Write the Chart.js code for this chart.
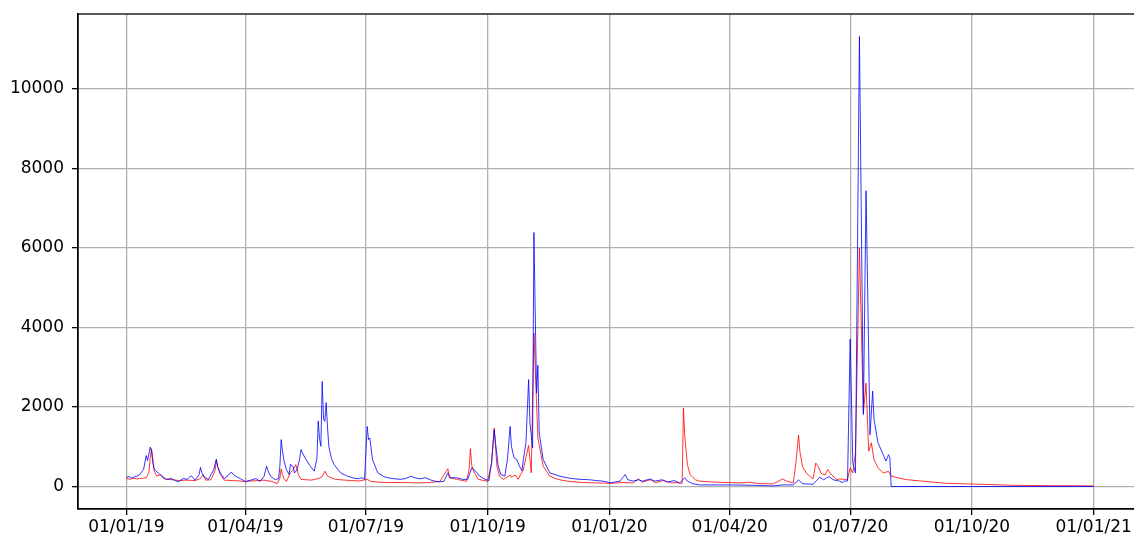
<!DOCTYPE html>
<html>
<head>
<meta charset="utf-8">
<script src="https://cdn.jsdelivr.net/npm/chart.js@4.4.1/dist/chart.umd.min.js"></script>
<style>
  html, body { margin: 0; padding: 0; background: #fff; overflow: hidden; }
  #wrap { width: 1150px; height: 539px; }
</style>
</head>
<body>
<div id="wrap"><canvas id="c" width="1150" height="539"></canvas></div>
<script>
// Days counted from 2019-01-01
const blueDays = [0,2,4,6,8,10,13,15,16,18,19,20,21,24,27,30,34,37,39,43,46,49,52,55,56,57,59,62,66,68,69,71,74,77,79,82,86,90,94,98,101,104,106,107,109,112,115,116,117,118,119,121,123,124,126,127,129,131,132,133,135,139,142,144,145,146,147,148,149,150,151,152,153,155,157,162,167,172,175,178,180,182,183,184,186,190,195,199,203,207,211,215,218,222,226,231,236,240,243,245,250,254,258,261,263,267,271,274,276,278,279,281,283,286,288,290,291,293,295,297,299,300,302,304,305,307,308,310,311,312,315,320,327,333,337,343,350,355,360,366,373,377,379,383,387,390,396,399,405,409,414,418,422,424,428,433,458,475,489,496,504,508,511,519,524,527,531,534,539,541,543,545,547,549,551,554,557,559,562,564,565,568,572,574,576,577,578,731];
const blueValues = [230,250,210,240,260,300,430,780,650,990,900,600,440,340,260,180,200,150,117,200,180,270,160,300,480,350,230,180,420,690,500,340,200,280,360,270,200,125,160,200,125,250,510,400,260,180,190,500,1180,900,670,420,300,560,500,340,420,700,930,850,720,510,385,700,1650,1200,1010,2640,1700,1640,2110,1500,1010,700,550,343,260,210,193,220,180,1510,1180,1220,680,343,243,210,193,180,200,260,220,193,220,150,117,130,343,220,220,180,180,470,420,260,180,150,595,1430,1100,520,300,260,680,1510,1010,720,680,520,390,680,1100,2690,1600,970,6390,2350,3050,1350,680,343,265,220,200,180,170,150,135,93,135,300,170,135,170,135,190,135,170,110,150,90,218,135,70,40,40,30,15,40,40,165,70,55,234,170,250,170,135,100,140,135,3710,590,343,11320,1810,7440,1300,2400,1700,1100,800,640,800,720,0,0];

const redDays = [0,3,5,8,10,13,15,17,18,19,20,21,23,26,28,31,35,40,45,52,56,58,60,64,67,68,69,71,74,80,85,90,95,100,104,110,114,116,117,118,119,121,124,126,128,130,132,136,140,145,148,150,152,158,165,170,176,182,185,195,210,220,230,237,243,244,250,257,259,260,261,263,266,273,276,278,280,282,285,290,291,294,296,300,304,306,308,311,315,320,326,333,345,357,366,375,383,387,390,396,400,406,412,416,420,421,422,424,426,430,433,445,455,465,470,478,489,496,499,504,506,508,509,511,514,519,521,523,525,528,530,533,537,539,545,547,549,551,554,557,559,561,563,565,568,572,576,578,589,600,620,647,670,700,731];
const redValues = [200,180,210,190,200,210,220,350,700,950,700,390,260,300,200,180,170,150,160,150,200,300,160,170,400,660,500,300,160,150,140,125,140,150,160,125,75,200,440,300,200,125,350,420,550,300,180,170,160,200,250,385,260,180,160,150,140,180,125,100,100,90,100,130,450,220,180,130,420,950,530,340,180,130,595,1470,520,260,180,290,230,290,180,427,1030,343,3860,1220,510,260,180,135,100,90,80,100,90,190,110,170,100,150,90,100,75,1975,1260,550,300,170,135,110,100,90,110,75,65,190,135,90,590,1290,880,500,330,190,590,500,330,290,430,290,170,190,175,470,343,850,6000,1850,2600,890,1100,680,470,343,380,260,175,140,80,55,30,20,15];

const xTickDays = [0,90,181,273,365,456,547,639,731];
const xTickLabels = ['01/01/19','01/04/19','01/07/19','01/10/19','01/01/20','01/04/20','01/07/20','01/10/20','01/01/21'];
const yTickValues = [0,2000,4000,6000,8000,10000];

const toPoints = (xs, ys) => xs.map((d, i) => ({x: d, y: ys[i]}));

const frame = {
  id: 'frame',
  afterDraw(chart) {
    const a = chart.chartArea, ctx = chart.ctx;
    ctx.save();
    ctx.strokeStyle = '#000';
    ctx.lineWidth = 1.3;
    ctx.strokeRect(a.left, a.top, a.right - a.left, a.bottom - a.top);
    ctx.restore();
  }
};

const font = {family: 'DejaVu Sans', size: 17};

new Chart(document.getElementById('c'), {
  type: 'line',
  data: {
    datasets: [
      {data: toPoints(blueDays, blueValues), borderColor: '#0000ff', borderWidth: 0.8, pointRadius: 0, tension: 0, fill: false},
      {data: toPoints(redDays, redValues), borderColor: '#ff0000', borderWidth: 0.8, pointRadius: 0, tension: 0, fill: false}
    ]
  },
  options: {
    responsive: false,
    animation: false,
    devicePixelRatio: 1,
    layout: {padding: {top: 14, right: 8, left: 0, bottom: 0}},
    plugins: {legend: {display: false}, tooltip: {enabled: false}},
    scales: {
      x: {
        type: 'linear',
        min: -36.55,
        max: 767.55,
        afterBuildTicks: s => { s.ticks = xTickDays.map(v => ({value: v})); },
        afterFit: s => { s.height = 30; s.paddingLeft = 0; s.paddingRight = 0; },
        ticks: {
          color: '#000', font, padding: 2, maxRotation: 0, autoSkip: false,
          callback: v => { const i = xTickDays.indexOf(v); return i >= 0 ? xTickLabels[i] : ''; }
        },
        grid: {color: '#b0b0b0', lineWidth: 1.3, tickColor: '#000', tickLength: 6, tickWidth: 1.3},
        border: {color: '#000', width: 1.3}
      },
      y: {
        type: 'linear',
        min: -566,
        max: 11886,
        afterBuildTicks: s => { s.ticks = yTickValues.map(v => ({value: v})); },
        afterFit: s => { s.width = 78; s.paddingTop = 0; s.paddingBottom = 0; },
        ticks: {color: '#000', font, padding: 8, callback: v => String(v)},
        grid: {color: '#b0b0b0', lineWidth: 1.3, tickColor: '#000', tickLength: 6, tickWidth: 1.3},
        border: {color: '#000', width: 1.3}
      }
    }
  },
  plugins: [frame]
});
</script>
</body>
</html>
